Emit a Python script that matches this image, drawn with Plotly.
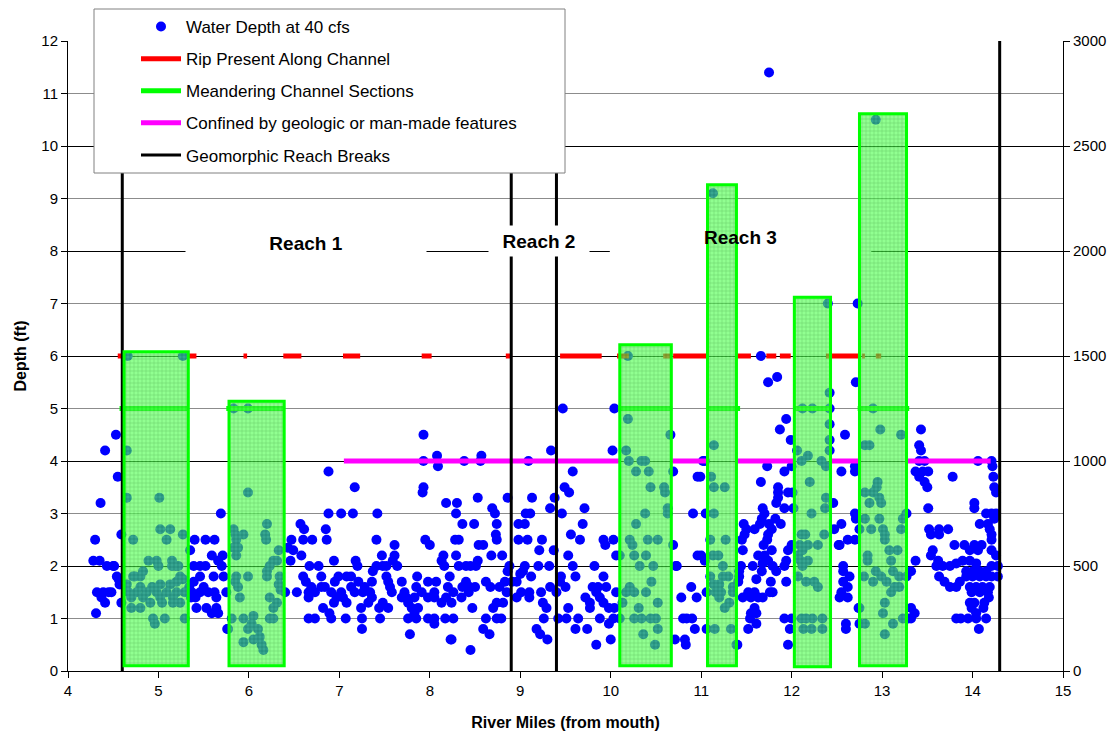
import plotly.graph_objects as go

# ---------------- data ----------------
# Water depth points (river mile, depth ft), grouped by stretch
seg_a_miles = [4.53,4.41,4.55,4.36,4.30,4.28,4.35,4.43,4.51,4.32,4.39,4.48,4.41,4.31,4.56,4.57,4.59,4.59,4.37,4.45,4.50,4.54,
               4.66,5.27,4.65,4.65,5.01,5.02,5.13,4.72,5.09,5.27,4.89,4.98,5.15,5.00,5.15,5.19,4.83,4.74,5.24,5.27,
               4.65,4.80,4.93,5.02,5.13,5.20,4.67,4.76,4.87,4.98,5.09,5.20,5.29,4.70,4.83,5.02,5.16,
               4.70,4.80,4.91,5.04,5.16,5.24,4.94,5.07,5.29,4.96,4.72,4.80,5.22,
               5.40,5.52,5.62,5.35,5.59,5.71,5.39,5.46,5.52,5.66,5.70,5.72,5.61,5.46,5.39,5.37,5.46,5.55,5.62,5.75,
               5.41,5.36,5.64,5.53,5.64,5.42,5.59,5.66,5.69,5.77,5.34,5.50]
seg_a_depth = [4.5,4.2,3.7,3.2,2.5,2.1,2.1,2.0,2.0,1.5,1.5,1.5,1.3,1.1,1.75,1.65,2.6,1.3,1.4,1.5,2.0,1.8,
               6.0,6.0,4.2,3.3,3.3,2.7,2.7,2.5,2.5,2.6,2.1,2.1,2.1,2.0,2.0,2.0,1.9,1.8,1.8,1.75,
               1.65,1.6,1.6,1.65,1.65,1.7,1.5,1.5,1.5,1.5,1.5,1.5,1.5,1.4,1.4,1.4,1.4,
               1.2,1.2,1.3,1.3,1.3,1.3,1.0,1.0,1.0,0.9,1.8,1.8,2.0,
               2.5,2.5,2.5,2.3,2.2,2.2,2.0,2.0,2.0,2.1,2.0,1.8,1.8,1.8,1.7,1.5,1.5,1.5,1.5,1.5,
               1.4,1.4,1.4,1.2,1.2,1.2,1.1,1.1,3.0,0.8,1.6,1.6]

seg_b_miles = [5.83,5.99,5.99,5.83,6.20,5.85,5.94,6.18,5.86,6.19,5.83,5.88,6.33,5.86,6.27,6.31,6.23,6.20,5.86,5.99,6.20,6.34,
               5.85,6.33,6.35,5.88,5.90,6.23,6.31,6.27,5.81,5.94,6.23,6.27,6.05,6.03,5.99,6.10,6.12,5.94,6.05,6.14,6.16,5.76]
seg_b_depth = [5.0,5.0,3.4,2.7,2.8,2.6,2.6,2.6,2.5,2.5,2.35,2.35,2.3,2.2,2.1,2.1,2.0,1.9,1.8,1.8,1.8,1.8,
               1.7,1.65,1.55,1.6,1.4,1.4,1.3,1.2,1.0,1.0,1.0,1.0,1.05,0.9,0.8,0.8,0.65,0.55,0.6,0.5,0.4,0.8]

seg_c_miles = [7.93,7.93,8.08,8.09,6.88,7.17,7.93,7.92,8.18,6.88,7.02,7.15,7.42,6.57,6.61,6.85,6.47,6.60,6.70,6.86,7.41,7.61,
               7.95,8.00,6.43,6.49,6.58,6.46,6.94,7.47,7.18,7.20,7.61,7.59,7.64,8.13,8.15,8.16,6.67,6.77,7.37,7.41,7.48,7.52,
               6.60,6.80,6.99,7.08,7.13,7.52,7.86,8.22,7.98,8.07,6.63,6.95,7.21,7.36,7.54,7.69,
               6.69,6.80,6.84,7.13,7.28,7.56,7.85,8.20,
               6.40,6.53,6.66,6.73,6.91,7.02,7.17,7.26,7.34,7.58,7.72,7.91,8.05,8.18,
               6.66,6.97,7.04,7.36,7.69,7.74,7.83,7.98,8.05,
               6.94,7.08,7.32,7.48,7.76,8.13,7.44,7.80,6.82,7.24,7.54,7.87,6.89,7.83,
               6.66,6.73,6.91,7.07,7.25,7.45,7.76,7.85,7.98,8.05,8.17,8.05,7.25,7.78,8.23]
seg_c_depth = [4.5,4.0,4.1,3.9,3.8,3.5,3.5,3.4,3.2,3.0,3.0,3.0,3.0,2.8,2.7,2.7,2.5,2.5,2.5,2.5,2.5,2.4,
               2.5,2.4,2.35,2.3,2.2,2.1,2.1,2.2,2.1,2.0,2.2,2.1,2.0,2.1,2.2,2.0,2.0,2.0,1.9,2.0,2.0,2.0,
               1.8,1.8,1.8,1.8,1.8,1.8,1.8,1.8,1.7,1.7,1.7,1.7,1.7,1.7,1.7,1.7,
               1.6,1.6,1.6,1.6,1.6,1.6,1.6,1.6,
               1.5,1.5,1.5,1.5,1.5,1.5,1.5,1.5,1.5,1.5,1.5,1.5,1.5,1.4,
               1.4,1.4,1.4,1.4,1.4,1.4,1.4,1.4,1.4,
               1.3,1.3,1.3,1.3,1.3,1.3,1.2,1.2,1.2,1.2,1.2,1.2,1.1,1.1,
               1.0,1.0,1.0,1.0,1.0,1.0,1.0,1.0,1.0,1.0,1.0,0.9,0.8,0.7,0.6]

seg_d_miles = [9.47,10.04,9.34,10.02,8.38,8.57,8.56,9.09,9.58,9.49,9.54,8.53,8.86,9.13,9.38,8.30,8.69,8.72,8.29,9.06,9.11,9.33,
               9.46,9.71,8.36,8.49,8.74,8.98,9.05,9.69,8.73,8.74,8.28,8.32,8.54,8.59,8.98,9.08,9.24,9.56,9.66,9.92,10.03,9.94,
               9.21,9.37,8.29,8.68,8.80,9.53,10.06,8.53,8.32,8.40,8.45,8.51,8.88,8.86,9.05,9.03,9.00,9.20,9.32,9.58,9.82,
               9.12,9.45,9.61,9.92,8.40,8.62,8.83,8.91,8.96,9.44,
               8.36,8.44,8.50,8.67,8.77,9.33,9.50,9.80,9.86,9.95,
               8.26,8.43,8.85,9.01,9.10,9.23,9.40,9.84,10.06,
               8.35,8.96,9.10,9.72,9.88,8.24,8.74,8.81,9.25,9.77,9.92,
               8.47,8.70,9.29,9.53,9.77,9.98,10.04,
               8.26,8.62,8.74,8.79,9.26,9.42,9.51,9.64,9.88,10.03,
               8.59,8.66,9.18,9.22,9.30,9.61,9.74,9.98,8.24,9.84,10.00,8.45]
seg_d_depth = [5.0,5.0,4.2,4.2,4.0,4.1,4.0,4.0,3.8,3.5,3.4,3.3,3.3,3.3,3.3,3.2,3.1,3.0,3.0,3.0,3.0,3.1,
               3.0,3.1,2.8,2.8,2.8,2.8,2.8,2.8,2.6,2.5,2.5,2.5,2.4,2.4,2.5,2.5,2.5,2.6,2.5,2.5,2.5,2.4,
               2.3,2.3,2.2,2.2,2.2,2.2,2.2,2.1,2.0,2.0,2.0,2.0,2.0,1.9,2.0,1.9,1.85,2.0,2.0,2.0,2.0,
               1.8,1.8,1.8,1.8,1.7,1.7,1.7,1.7,1.7,1.7,
               1.6,1.6,1.6,1.6,1.6,1.6,1.6,1.6,1.6,1.6,
               1.5,1.5,1.5,1.5,1.5,1.5,1.5,1.5,1.5,
               1.4,1.4,1.4,1.4,1.4,1.3,1.3,1.3,1.3,1.3,1.3,
               1.2,1.2,1.2,1.2,1.2,1.2,1.2,
               1.0,1.0,1.0,1.0,1.0,1.0,1.0,1.0,1.0,1.0,
               0.8,0.7,0.8,0.7,0.6,0.8,0.8,0.9,0.6,0.5,0.6,0.4]

seg_e_miles = [10.19,10.19,10.66,10.17,10.20,10.34,10.38,10.28,10.42,10.44,10.59,10.60,10.63,10.63,10.38,10.28,10.21,10.24,
               10.41,10.52,10.10,10.26,10.39,10.32,10.47,10.45,10.21,10.17,10.26,10.39,10.13,10.31,10.52,10.26,10.34,10.44,
               10.50,10.10,10.36,10.52,10.49,
               10.69,10.69,10.72,10.78,10.82,10.83,10.89,10.91,10.96,10.96,10.95,10.80,10.90,10.71,10.73,11.00,11.04,
               10.99,11.02,11.04,11.05,10.93,10.84]
seg_e_depth = [6.0,4.8,4.5,4.2,4.0,4.0,4.0,3.8,3.8,3.5,3.5,3.4,3.1,3.0,3.0,2.8,2.5,2.4,
               2.5,2.5,2.2,2.2,2.2,2.0,2.0,1.7,1.6,1.5,1.5,1.5,1.3,1.2,1.3,1.0,1.0,1.0,
               1.0,1.0,0.7,0.8,0.5,
               2.4,3.8,2.0,1.4,0.6,0.5,1.6,3.0,3.7,2.2,1.4,1.0,1.0,0.6,2.0,2.2,2.1,
               3.7,4.0,4.0,3.0,0.8,1.0]

seg_f_miles = [11.13,11.14,11.11,11.14,11.26,11.14,11.10,11.27,11.13,11.19,11.24,11.10,11.24,11.30,11.06,11.16,11.22,11.35,
               11.20,11.35,11.31,11.26,11.06,11.15,11.33,11.20,11.14,
               11.75,11.66,11.74,11.84,11.94,11.87,11.99,11.73,11.66,11.92,12.00,11.85,11.85,11.96,12.01,11.85,11.83,11.92,
               12.02,11.68,11.70,11.67,11.65,11.75,11.78,11.74,11.47,11.50,11.59,11.88,11.48,11.45,11.46,12.00,11.96,11.94,
               11.92,11.69,11.63,11.78,11.74,11.68,11.67,11.79,11.83,11.44,11.57,11.42,11.42,11.41,11.77,11.94,11.79,11.46,
               11.55,11.63,11.68,11.52,11.59,11.59,11.55,11.61,11.52,11.39,11.92,12.00,11.98,11.96,11.40,11.54,11.61,11.61,
               11.76,11.70,11.73,11.82]
seg_f_depth = [9.1,4.3,3.7,3.5,3.5,3.0,2.5,2.5,2.2,2.2,2.0,1.8,1.8,1.8,1.5,1.5,1.5,1.5,
               1.4,1.6,1.3,1.2,0.8,0.8,0.8,1.65,1.65,
               11.4,6.0,5.5,5.6,4.8,4.6,4.4,3.9,3.6,3.8,3.9,3.5,3.4,3.4,3.4,3.3,3.2,3.1,
               3.1,3.1,3.0,2.9,2.8,2.8,2.7,2.6,2.8,2.7,2.7,2.8,2.6,2.5,2.3,2.4,2.3,2.1,
               2.0,2.4,2.2,2.3,2.1,2.05,1.9,2.0,1.9,2.0,2.0,1.9,1.8,1.7,1.7,1.7,1.5,1.4,
               1.4,1.4,1.4,1.5,1.5,1.2,1.1,0.9,0.8,0.5,1.0,1.0,0.8,0.5,0.5,1.0,1.1,1.75,
               1.5,2.2,2.5,2.9]

seg_g_miles = [12.40,12.42,12.42,12.42,12.42,12.42,12.12,12.23,12.06,12.18,12.11,12.33,12.38,12.20,12.38,12.37,12.22,12.11,
               12.15,12.36,12.09,12.18,12.29,12.12,12.10,12.12,12.16,12.25,12.29,12.11,12.16,12.23,12.34,12.13,12.22,12.34,
               12.07,12.18,12.07,
               12.59,12.70,12.55,12.70,12.70,12.71,12.55,12.62,12.70,12.53,12.57,12.57,12.64,12.57,12.62,12.55,12.62,12.60,
               12.60,12.74,12.46,12.47,12.52,12.53]
seg_g_depth = [7.0,5.3,5.0,4.7,4.4,4.2,5.0,5.0,4.2,4.1,4.0,4.0,3.9,3.6,3.3,3.1,3.0,2.6,
               2.6,2.6,2.4,2.4,2.4,2.3,2.1,2.0,1.7,1.7,1.6,1.0,1.0,1.0,1.0,0.8,0.8,0.8,
               1.8,2.1,2.2,
               4.5,3.9,3.8,3.8,3.0,2.9,2.8,2.5,2.5,2.4,2.0,1.9,1.8,1.7,1.6,1.5,1.4,0.9,
               0.8,1.2,3.2,2.7,2.4,1.4]

seg_h_miles = [12.73,12.93,12.71,12.90,12.98,13.21,12.81,12.86,12.95,12.94,12.90,12.81,12.97,12.86,12.99,12.81,12.97,13.23,
               12.75,12.88,13.01,13.21,13.03,13.03,13.08,13.17,13.10,12.84,12.84,12.93,12.99,13.12,13.19,12.80,12.90,13.05,
               13.14,13.10,13.19,13.03,13.01,12.75,12.81,12.75,13.12,13.23,13.03]
seg_h_depth = [7.0,10.5,5.5,5.0,4.6,4.5,4.3,4.3,3.6,3.5,3.4,3.4,3.3,3.2,3.2,2.9,2.9,2.9,
               2.7,2.7,2.7,2.7,2.6,2.5,2.3,2.3,2.1,2.2,2.1,1.9,1.8,1.9,1.8,1.8,1.7,1.7,
               1.6,1.5,1.6,1.3,1.1,1.2,0.9,0.9,0.9,1.0,0.7]

seg_i_miles = [13.43,13.41,13.43,13.41,13.47,13.37,13.45,13.51,13.41,13.50,13.47,13.78,13.51,14.02,14.02,14.06,14.21,14.23,
               14.24,14.26,14.22,14.15,14.21,14.26,14.24,14.17,14.08,14.19,14.21,14.21,13.27,13.52,13.54,13.63,13.73,13.63,
               13.80,13.91,14.02,14.10,13.97,14.06,14.21,13.56,13.54,13.37,13.62,13.67,13.60,13.75,13.82,13.89,13.97,14.04,
               14.21,14.28,13.63,13.69,13.75,13.82,13.86,13.93,14.00,14.08,14.15,13.93,14.00,14.08,14.15,14.21,13.97,14.04,
               14.11,14.19,13.99,14.08,14.17,13.97,14.02,14.13,13.99,14.04,13.82,13.87,13.95,14.04,14.15,14.07,13.32,13.36,
               13.32,13.29,13.27,13.32,14.26,14.28,14.12,14.18]
seg_i_depth = [4.6,4.3,4.2,4.0,4.0,3.8,3.8,3.8,3.7,3.5,3.6,3.7,3.1,3.2,3.1,4.0,4.0,3.7,
               3.5,3.4,3.9,3.0,3.0,3.0,2.9,2.8,2.8,2.7,2.6,2.5,3.0,2.7,2.6,2.7,2.7,2.6,
               2.4,2.4,2.4,2.4,2.3,2.3,2.3,2.3,2.2,2.1,2.1,2.0,2.0,2.0,2.05,2.1,2.1,2.05,
               2.0,1.8,1.8,1.7,1.6,1.6,1.7,1.9,1.9,1.9,1.9,1.8,1.8,1.8,1.8,1.8,1.6,1.6,
               1.6,1.6,1.5,1.5,1.5,1.3,1.3,1.3,1.2,1.1,1.0,1.0,1.0,1.0,1.0,0.8,1.2,1.1,
               1.0,1.0,1.8,1.9,2.2,2.0,1.2,1.4]

# Rip present along channel (depth plotted at 6 ft)
rip_start = [4.55, 5.33, 5.94, 6.38, 7.04, 7.91, 8.84, 9.44, 10.07, 10.58, 10.69, 11.39, 11.72, 11.87, 12.38, 12.78, 12.93]
rip_end   = [4.62, 5.42, 5.98, 6.58, 7.23, 8.02, 8.91, 9.90, 10.20, 10.66, 11.07, 11.55, 11.83, 11.99, 12.75, 12.81, 12.99]
rip_level = 6

# Meandering channel sections (plotted at 5 ft)
meander_start = [4.57, 5.75, 10.08, 11.07, 12.03, 12.73]
meander_end   = [5.33, 6.40, 10.68, 11.43, 12.44, 13.30]
meander_level = 5

# Confined reaches (plotted at 4 ft)
confined_start = [7.05, 10.68, 11.39, 12.44, 13.28]
confined_end   = [10.09, 11.07, 12.03, 12.74, 14.20]
confined_level = 4

# Geomorphic reach breaks (river mile)
reach_breaks = [4.6, 8.9, 9.4, 14.3]

# Meander bars on secondary axis
bar_left   = [4.62, 5.78, 10.10, 11.07, 12.03, 12.75]
bar_right  = [5.33, 6.39, 10.67, 11.39, 12.43, 13.27]
bar_top    = [1520, 1285, 1553, 2315, 1780, 2653]
bar_bottom = [25, 25, 25, 25, 20, 25]

reach_labels = ["Reach 1", "Reach 2", "Reach 3"]
reach_label_x = [6.63, 9.21, 11.43]
reach_label_y = [8.15, 8.2, 8.25]

# ---------------- build ----------------
def segs(starts, ends, level):
    xs, ys = [], []
    for s, e in zip(starts, ends):
        xs += [s, e, None]
        ys += [level, level, None]
    return xs, ys

all_x = (seg_a_miles + seg_b_miles + seg_c_miles + seg_d_miles + seg_e_miles +
         seg_f_miles + seg_g_miles + seg_h_miles + seg_i_miles)
all_y = (seg_a_depth + seg_b_depth + seg_c_depth + seg_d_depth + seg_e_depth +
         seg_f_depth + seg_g_depth + seg_h_depth + seg_i_depth)

FONT = "Arial, Liberation Sans, sans-serif"
fig = go.Figure()

fig.add_trace(go.Scatter(x=all_x, y=all_y, mode="markers", name="Water Depth at 40 cfs",
                         marker=dict(color="#0000ff", size=10), legendgroup="g1"))
rx, ry = segs(rip_start, rip_end, rip_level)
fig.add_trace(go.Scatter(x=rx, y=ry, mode="lines", name="Rip Present Along Channel",
                         line=dict(color="#ff0000", width=5), legendgroup="g2"))
mx, my = segs(meander_start, meander_end, meander_level)
fig.add_trace(go.Scatter(x=mx, y=my, mode="lines", name="Meandering Channel Sections",
                         line=dict(color="#00ff00", width=5), legendgroup="g3"))
cx, cy = segs(confined_start, confined_end, confined_level)
fig.add_trace(go.Scatter(x=cx, y=cy, mode="lines", name="Confined by geologic or man-made features",
                         line=dict(color="#ff00ff", width=5), legendgroup="g4"))
bx, by = [], []
for r in reach_breaks:
    bx += [r, r, None]
    by += [0, 12, None]
fig.add_trace(go.Scatter(x=bx, y=by, mode="lines", name="Geomorphic Reach Breaks",
                         line=dict(color="#000000", width=3), legendgroup="g5"))

centers = [(l + r) / 2 for l, r in zip(bar_left, bar_right)]
widths = [r - l for l, r in zip(bar_left, bar_right)]
heights = [t - b for t, b in zip(bar_top, bar_bottom)]
# hatched translucent fill
fig.add_trace(go.Bar(x=centers, y=heights, base=bar_bottom, width=widths, yaxis="y2",
                     showlegend=False, hoverinfo="skip", legendgroup="g6",
                     marker=dict(color="#33ee33", opacity=0.65, line=dict(width=0),
                                 pattern=dict(shape="+", fillmode="replace", bgcolor="#55ff55",
                                              fgcolor="#11aa11", size=4, solidity=0.2))))
# solid bright outline
fig.add_trace(go.Bar(x=centers, y=heights, base=bar_bottom, width=widths, yaxis="y2",
                     showlegend=False, hoverinfo="skip", legendgroup="g6",
                     marker=dict(color="rgba(0,0,0,0)", line=dict(color="#00ff00", width=3))))

W, H = 1117, 736
L, R, T, B = 68, 54, 41, 65
pw, ph = W - L - R, H - T - B

def px(xp):
    return (xp - L) / pw

def py(yp):
    return (H - B - yp) / ph

shapes = []
# white gap behind the Reach 3 label (covers gridline, stays under the bars)
shapes.append(dict(type="rect", xref="x", yref="y", x0=9.99, x1=12.88, y0=7.7, y1=8.5,
                   fillcolor="white", line=dict(width=0), layer="between"))
# legend box
shapes.append(dict(type="rect", xref="paper", yref="paper", x0=px(94), x1=px(565), y0=py(173), y1=py(9),
                   fillcolor="white", line=dict(color="#808080", width=1), layer="above"))

label_box_w = [240, 100, None]
annotations = []
for t, x, y, bw in zip(reach_labels, reach_label_x, reach_label_y, label_box_w):
    a = dict(x=x, y=y, xref="x", yref="y", text="<b>%s</b>" % t, showarrow=False,
             font=dict(family=FONT, size=19, color="black"))
    if bw:
        a.update(bgcolor="white", width=bw, height=30, borderpad=0)
    annotations.append(a)

fig.update_layout(
    width=W, height=H, margin=dict(l=L, r=R, t=T, b=B, autoexpand=False),
    paper_bgcolor="white", plot_bgcolor="white",
    font=dict(family=FONT, color="black"),
    barmode="overlay", showlegend=True,
    legend=dict(x=px(136), y=py(9), xanchor="left", yanchor="top", bgcolor="rgba(0,0,0,0)",
                borderwidth=0, font=dict(family=FONT, size=17, color="black"),
                itemwidth=40, tracegroupgap=7, traceorder="grouped"),
    xaxis=dict(range=[4, 15], dtick=1, tick0=4, ticks="outside", ticklen=6, tickcolor="black",
               showline=True, linecolor="black", linewidth=1, showgrid=False, zeroline=False,
               tickfont=dict(family=FONT, size=15),
               title=dict(text="River Miles (from mouth)", font=dict(family=FONT, size=16, weight="bold"), standoff=18)),
    yaxis=dict(range=[0, 12], dtick=1, tick0=0, ticks="outside", ticklen=6, tickcolor="black",
               showline=True, linecolor="black", linewidth=1, showgrid=True, gridcolor="#8c8c8c", gridwidth=1,
               zeroline=False, tickfont=dict(family=FONT, size=15),
               title=dict(text="Depth (ft)", font=dict(family=FONT, size=16, weight="bold"), standoff=10)),
    yaxis2=dict(range=[0, 3000], dtick=500, tick0=0, overlaying="y", side="right", ticks="outside", ticklen=6,
                tickcolor="black", showline=True, linecolor="black", linewidth=1, showgrid=True,
                gridcolor="#000000", gridwidth=1, zeroline=False, tickfont=dict(family=FONT, size=15)),
    shapes=shapes, annotations=annotations,
)

fig.write_html("out.html")
